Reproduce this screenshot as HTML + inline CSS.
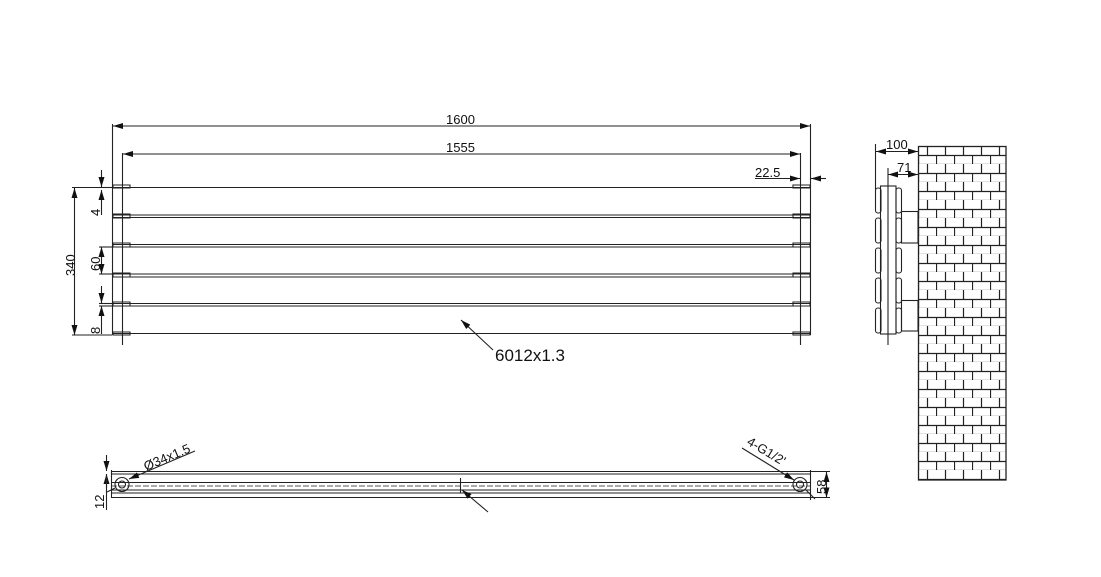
<!DOCTYPE html>
<html><head><meta charset="utf-8"><style>html,body{margin:0;padding:0;background:#fff}svg{display:block}text{font-family:"Liberation Sans",sans-serif;fill:#111}</style></head><body>
<svg width="1101" height="577" viewBox="0 0 1101 577" xmlns="http://www.w3.org/2000/svg">
<defs>
<marker id="a" viewBox="0 0 10 6" refX="10" refY="3" markerWidth="10" markerHeight="6" orient="auto-start-reverse" markerUnits="userSpaceOnUse"><path d="M0,0L10,3L0,6z" fill="#111"/></marker>
<pattern id="brick" x="918" y="146" width="18" height="18" patternUnits="userSpaceOnUse">
<rect width="18" height="18" fill="#fff"/>
<path d="M0,9.5H18M0,18.5H18M9.5,0V9M0.5,9V18" stroke="#222" stroke-width="1.2" fill="none"/>
</pattern>
</defs>
<g stroke="#222" stroke-width="1.1" fill="none">
<line x1="112.5" y1="124" x2="112.5" y2="335"/>
<line x1="122.5" y1="153" x2="122.5" y2="345"/>
<line x1="800.5" y1="153" x2="800.5" y2="345"/>
<line x1="810.5" y1="124" x2="810.5" y2="335"/>
<path d="M112,187.5H810M112,215H810M112,217.5H810M112,244.5H810M112,247H810M112,274H810M112,277H810M112,303.5H810M112,306H810M112,333.5H810"/>
<path d="M113,185h17v3h-17zM113,214h17v4h-17zM113,243h17v4h-17zM113,273h17v4h-17zM113,302h17v4h-17zM113,332h17v3h-17z"/>
<path d="M793,185h17v3h-17zM793,214h17v4h-17zM793,243h17v4h-17zM793,273h17v4h-17zM793,302h17v4h-17zM793,332h17v3h-17z"/>
<line x1="113" y1="126" x2="810" y2="126" marker-start="url(#a)" marker-end="url(#a)"/>
<line x1="123" y1="154" x2="800" y2="154" marker-start="url(#a)" marker-end="url(#a)"/>
<line x1="755" y1="178.5" x2="800" y2="178.5" marker-end="url(#a)"/>
<line x1="826" y1="178.5" x2="811" y2="178.5" marker-end="url(#a)"/>
<line x1="72" y1="187.5" x2="112" y2="187.5"/>
<line x1="72" y1="335" x2="112" y2="335"/>
<line x1="74.5" y1="188" x2="74.5" y2="335" marker-start="url(#a)" marker-end="url(#a)"/>
<line x1="101.5" y1="170" x2="101.5" y2="187" marker-end="url(#a)"/>
<line x1="101.5" y1="215" x2="101.5" y2="190" marker-end="url(#a)"/>
<line x1="99" y1="187.5" x2="112" y2="187.5"/>
<line x1="101.5" y1="247" x2="101.5" y2="274" marker-start="url(#a)" marker-end="url(#a)"/>
<line x1="99" y1="247" x2="112" y2="247"/><line x1="99" y1="274" x2="112" y2="274"/>
<line x1="101.5" y1="286" x2="101.5" y2="303" marker-end="url(#a)"/>
<line x1="101.5" y1="334" x2="101.5" y2="306" marker-end="url(#a)"/>
<line x1="99" y1="303.5" x2="112" y2="303.5"/><line x1="99" y1="306" x2="112" y2="306"/>
<line x1="493" y1="350" x2="461" y2="320" marker-end="url(#a)"/>
<path d="M111,471.5H810M111,474H810M111,482.5H810M111,490H810M111,493H810M111,497.5H810"/>
<line x1="111.5" y1="470" x2="111.5" y2="498"/>
<line x1="810.5" y1="470" x2="810.5" y2="500"/>
<line x1="111" y1="486" x2="810" y2="486" stroke-dasharray="6,2" stroke-width="0.8"/>
<line x1="460.5" y1="478" x2="460.5" y2="493"/>
<circle cx="122" cy="484.5" r="7"/><circle cx="122" cy="484.5" r="3.5"/>
<circle cx="800" cy="484.5" r="7"/><circle cx="800" cy="484.5" r="3.5"/>
<line x1="195" y1="451" x2="129" y2="479" marker-end="url(#a)"/>
<line x1="107" y1="492" x2="115" y2="488"/>
<line x1="742" y1="448" x2="794" y2="480" marker-end="url(#a)"/>
<line x1="815" y1="499" x2="806" y2="490"/>
<line x1="488" y1="512" x2="462" y2="490" marker-end="url(#a)"/>
<line x1="106.5" y1="455" x2="106.5" y2="471" marker-end="url(#a)"/>
<line x1="106.5" y1="488" x2="106.5" y2="474" marker-end="url(#a)"/>
<line x1="106.5" y1="474" x2="106.5" y2="510"/>
<line x1="826.5" y1="472" x2="826.5" y2="497.5" marker-start="url(#a)" marker-end="url(#a)"/>
<line x1="810" y1="471.5" x2="830" y2="471.5"/><line x1="810" y1="497.5" x2="830" y2="497.5"/>
<line x1="875.5" y1="144" x2="875.5" y2="190"/>
<line x1="876" y1="151.5" x2="918" y2="151.5" marker-start="url(#a)" marker-end="url(#a)"/>
<line x1="888" y1="174.5" x2="918" y2="174.5" marker-start="url(#a)" marker-end="url(#a)"/>
<line x1="888" y1="168" x2="888" y2="345"/>
<rect x="880.5" y="186" width="15.5" height="148"/>
<rect x="875.5" y="188" width="5.5" height="25" rx="2.5"/><rect x="875.5" y="218" width="5.5" height="25" rx="2.5"/><rect x="875.5" y="248" width="5.5" height="25" rx="2.5"/><rect x="875.5" y="278" width="5.5" height="25" rx="2.5"/><rect x="875.5" y="308" width="5.5" height="25" rx="2.5"/>
<rect x="896" y="188" width="5.5" height="25" rx="2.5"/><rect x="896" y="218" width="5.5" height="25" rx="2.5"/><rect x="896" y="248" width="5.5" height="25" rx="2.5"/><rect x="896" y="278" width="5.5" height="25" rx="2.5"/><rect x="896" y="308" width="5.5" height="25" rx="2.5"/>
<rect x="901.5" y="211.5" width="16.5" height="31.5"/>
<rect x="901.5" y="300.5" width="16.5" height="30.5"/>
</g>
<rect x="918.5" y="146.5" width="87.5" height="333.5" fill="url(#brick)" stroke="#222" stroke-width="1.3"/>
<text x="446" y="124" font-size="13">1600</text>
<text x="446" y="152" font-size="13">1555</text>
<text x="755" y="177" font-size="13">22.5</text>
<text x="886" y="149" font-size="13">100</text>
<text x="897" y="172" font-size="13">71</text>
<text x="495" y="361" font-size="17">6012x1.3</text>
<text font-size="13" transform="translate(75,276) rotate(-90)">340</text>
<text font-size="13" transform="translate(100,216) rotate(-90)">4</text>
<text font-size="13" transform="translate(100,271) rotate(-90)">60</text>
<text font-size="13" transform="translate(100,334) rotate(-90)">8</text>
<text font-size="13" transform="translate(146,471) rotate(-23)">Ø34x1.5</text>
<text font-size="13" transform="translate(746,444) rotate(31)">4-G1/2'</text>
<text font-size="13" transform="translate(104,509) rotate(-90)">12</text>
<text font-size="13" transform="translate(826,494) rotate(-90)">58</text>
</svg>
</body></html>
